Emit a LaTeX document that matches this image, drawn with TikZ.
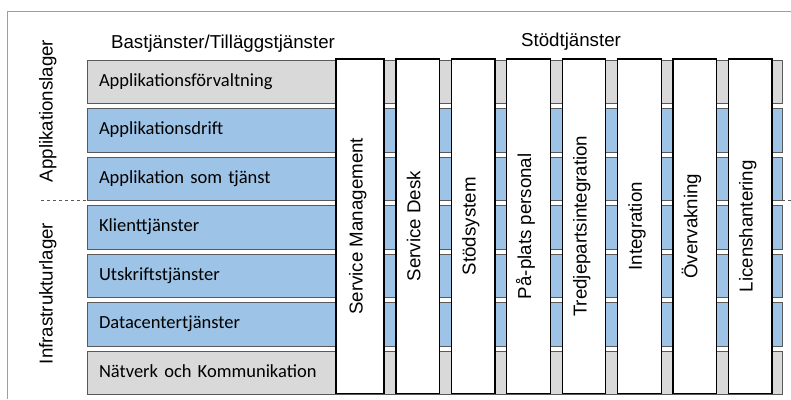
\documentclass[tikz,border=0pt]{standalone}
\usepackage{fontspec}
\setmainfont{Liberation Sans}
\newfontfamily\rowfont{Carlito}
\usepackage{tikz}
\usetikzlibrary{positioning}

\definecolor{frameblue}{HTML}{7AA6DA}
\definecolor{rowblue}{HTML}{9DC3E6}
\definecolor{rowgray}{HTML}{D9D9D9}
\definecolor{rowline}{HTML}{595959}

\begin{document}
\begin{tikzpicture}[
        x = 1pt, y = -1pt,
        row/.style = {
            draw = rowline,
            fill = #1,
            line width = 0.9pt,
            text width = 671pt,
            minimum height = 43.5pt,
            inner xsep = 12pt,
            inner ysep = 0pt,
            outer sep = 0pt,
            align = left,
            text height = 13pt,
            text depth = 4pt,
            font = \rowfont\fontsize{18.5}{22}\selectfont
        },
        row/.default = rowblue,
        bar/.style = {
            draw,
            fill = white,
            line width = 1.2pt,
            minimum width = #1,
            minimum height = 334.5pt,
            inner sep = 0pt,
            outer sep = 0pt
        },
        bar/.default = 43.6pt,
        barlabel/.style = {
            rotate = 90,
            anchor = base,
            inner sep = 0pt,
            font = \fontsize{18.7}{22}\selectfont
        },
        head/.style = {
            anchor = base,
            inner sep = 0pt,
            font = \fontsize{18.7}{22}\selectfont
        },
        node distance = {5pt}
        ]
        \useasboundingbox (0,0) rectangle (791,399);
%
        \draw[frameblue, line width = 1pt] (7.5,399) -- (7.5,11) -- (791,11);
%
        \node[head] (bas) at (223,48) {Bastjänster/Tilläggstjänster};
        \node[head] (stod) at (571,46) {Stödtjänster};
%
        \node[head, rotate = 90] (applager) at (52.5,111) {Applikationslager};
        \node[head, rotate = 90] (infralager) at (52.5,293.5) {Infrastrukturlager};
%
        \draw[rowline, dashed, line width = 0.6pt] (41,200.5) -- (87,200.5);
        \draw[rowline, dashed, line width = 0.6pt] (782,200.5) -- (791,200.5);
%
% layers
        \node[row = rowgray, anchor = north west] (r1) at (87,60) {Applikationsförvaltning};
        \node[row, below = of r1] (r2) {Applikationsdrift};
        \node[row, below = of r2] (r3) {Applikation som tjänst};
        \node[row, below = of r3] (r4) {Klienttjänster};
        \node[row, below = of r4] (r5) {Utskriftstjänster};
        \node[row, below = of r5] (r6) {Datacentertjänster};
        \node[row = rowgray, below = of r6] (r7) {Nätverk och Kommunikation};
%
% support services
        \node[bar = 48pt, anchor = north west] (b1) at (336,59) {};
        \node[bar, right = 12pt of b1] (b2) {};
        \node[bar, right = 11.8pt of b2] (b3) {};
        \node[bar, right = 11.8pt of b3] (b4) {};
        \node[bar, right = 11.8pt of b4] (b5) {};
        \node[bar, right = 11.8pt of b5] (b6) {};
        \node[bar, right = 11.8pt of b6] (b7) {};
        \node[bar, right = 11.8pt of b7] (b8) {};
%
        \node[barlabel] at ([xshift=2.5pt]b1.center) {Service Management};
        \node[barlabel] at ([xshift=2.5pt]b2.center) {Service Desk};
        \node[barlabel] at ([xshift=2.5pt]b3.center) {Stödsystem};
        \node[barlabel] at ([xshift=2.5pt]b4.center) {På-plats personal};
        \node[barlabel] at ([xshift=2.5pt]b5.center) {Tredjepartsintegration};
        \node[barlabel] at ([xshift=2.5pt]b6.center) {Integration};
        \node[barlabel] at ([xshift=2.5pt]b7.center) {Övervakning};
        \node[barlabel] at ([xshift=2.5pt]b8.center) {Licenshantering};
%
    \end{tikzpicture}
\end{document}
